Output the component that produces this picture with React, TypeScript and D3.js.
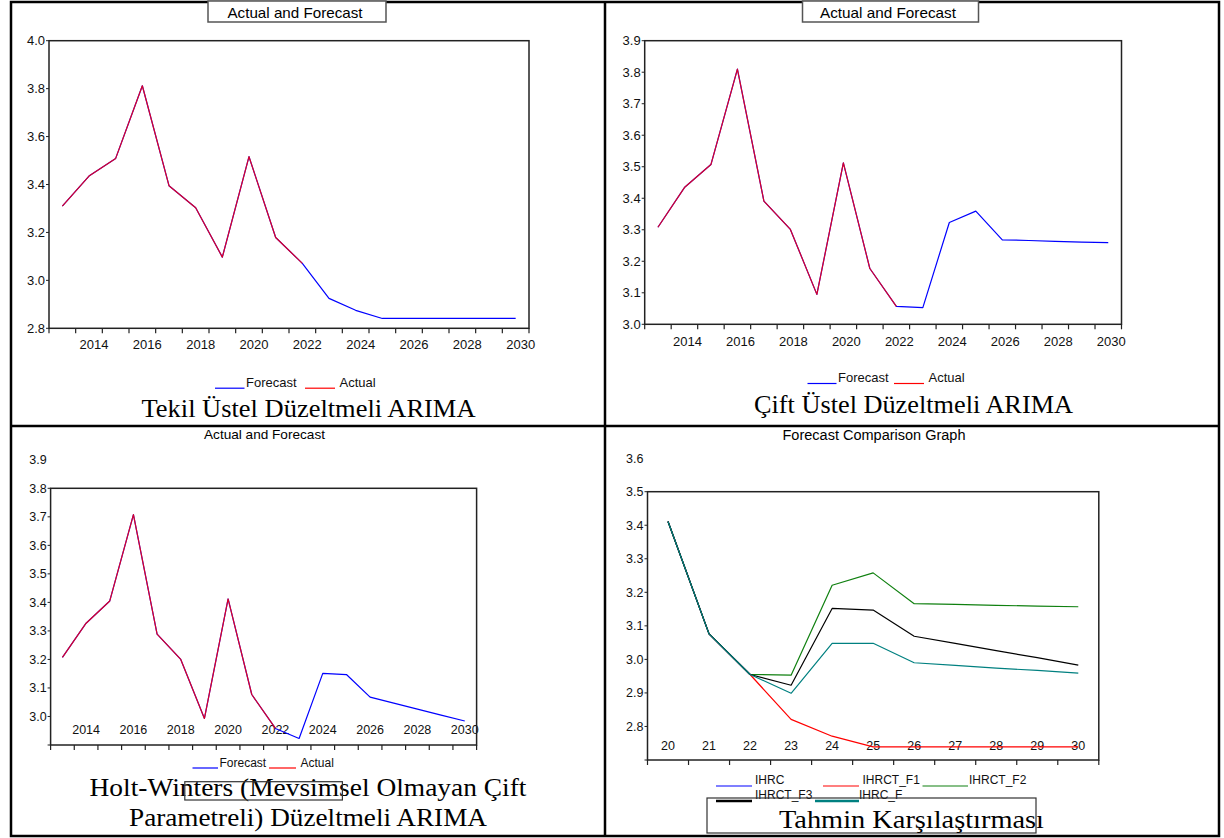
import React from "react";
import * as d3 from "d3";

// years on the three forecast charts
const years = ["2013", "2014", "2015", "2016", "2017", "2018", "2019", "2020", "2021", "2022",
  "2023", "2024", "2025", "2026", "2027", "2028", "2029", "2030"];
const yearLabels = ["2014", "2016", "2018", "2020", "2022", "2024", "2026", "2028", "2030"];

// Tekil ustel duzeltmeli
const tekilActual = [3.31, 3.435, 3.509, 3.812, 3.395, 3.303, 3.097, 3.516, 3.179, 3.071];
const tekilForecast = [3.31, 3.435, 3.509, 3.812, 3.395, 3.303, 3.097, 3.516, 3.179, 3.071,
  2.925, 2.875, 2.841, 2.841, 2.841, 2.841, 2.841, 2.841];

// Cift ustel duzeltmeli
const ciftActual = [3.308, 3.434, 3.507, 3.81, 3.391, 3.301, 3.095, 3.512, 3.177, 3.057];
const ciftForecast = [3.308, 3.434, 3.507, 3.81, 3.391, 3.301, 3.095, 3.512, 3.177, 3.057,
  3.053, 3.323, 3.359, 3.268, 3.266, 3.263, 3.261, 3.259];

// Holt-Winters
const holtActual = [3.207, 3.327, 3.405, 3.708, 3.289, 3.2, 2.993, 3.412, 3.077, 2.958];
const holtForecast = [3.207, 3.327, 3.405, 3.708, 3.289, 3.2, 2.993, 3.412, 3.077, 2.958,
  2.923, 3.151, 3.147, 3.068, 3.047, 3.026, 3.005, 2.984];

// comparison graph
const compCats = ["20", "21", "22", "23", "24", "25", "26", "27", "28", "29", "30"];
const ihrc = [3.411, 3.076, 2.955];
const ihrctF1 = [3.411, 3.076, 2.955, 2.821, 2.771, 2.739, 2.739, 2.739, 2.739, 2.739, 2.739];
const ihrctF2 = [3.411, 3.076, 2.955, 2.953, 3.221, 3.258, 3.166, 3.164, 3.161, 3.159, 3.157];
const ihrctF3 = [3.411, 3.076, 2.955, 2.923, 3.152, 3.147, 3.069, 3.048, 3.026, 3.005, 2.983];
const ihrcF = [3.411, 3.076, 2.955, 2.899, 3.048, 3.048, 2.99, 2.982, 2.974, 2.967, 2.959];

const SANS = "'Liberation Sans', Arial, sans-serif";
const SERIF = "'Liberation Serif', 'Times New Roman', serif";

type Series = { values: number[]; color: string; width?: number; opacity?: number };

type PanelProps = {
  cats: string[];
  x0: number; x1: number; y0: number; y1: number;
  yDomain: [number, number];
  yMarks: number[];
  yLabels: number[];
  xLabels: string[];
  xLabelY: number;
  xLabelDx: number;
  fontSize: number;
  series: Series[];
};

function Panel(p: PanelProps) {
  const x = d3.scaleBand<string>().domain(p.cats).range([p.x0, p.x1]);
  const y = d3.scaleLinear().domain(p.yDomain).range([p.y1, p.y0]);
  const cx = (c: string) => (x(c) as number) + x.bandwidth() / 2;
  const bounds = p.cats.map((c) => x(c) as number).concat([p.x1]);

  return (
    <g fontFamily={SANS} fontSize={p.fontSize} fill="#111">
      {p.yLabels.map((v) => (
        <text key={"yl" + v} x={p.x0 - 4} y={y(v)} dy="0.35em" textAnchor="end">
          {v.toFixed(1)}
        </text>
      ))}
      {p.yMarks.map((v) => (
        <line key={"ym" + v} x1={p.x0 - 3} x2={p.x0} y1={y(v)} y2={y(v)} stroke="#222" strokeWidth={1} />
      ))}
      {bounds.map((b, i) => (
        <line key={"xt" + i} x1={b} x2={b} y1={p.y1} y2={p.y1 + 5} stroke="#222" strokeWidth={1.2} />
      ))}
      {p.xLabels.map((c) => (
        <text key={"xl" + c} x={cx(c) + p.xLabelDx} y={p.xLabelY} textAnchor="middle">
          {c}
        </text>
      ))}
      {p.series.map((s, i) => {
        const gen = d3
          .line<number>()
          .x((_, j) => cx(p.cats[j]))
          .y((d) => y(d));
        return (
          <path
            key={"s" + i}
            d={gen(s.values) || ""}
            fill="none"
            stroke={s.color}
            strokeWidth={s.width ?? 1.2}
            strokeOpacity={s.opacity ?? 1}
            strokeLinejoin="round"
          />
        );
      })}
      <rect x={p.x0} y={p.y0} width={p.x1 - p.x0} height={p.y1 - p.y0} fill="none" stroke="#222" strokeWidth={1.5} />
    </g>
  );
}

function Legend2(props: { x: number; y: number; lines: [number, number, number, number]; size: number }) {
  const [b0, b1, r0, r1] = props.lines;
  return (
    <g fontFamily={SANS} fontSize={props.size} fill="#111">
      <line x1={b0} x2={b1} y1={props.y + 1.5} y2={props.y + 1.5} stroke="#0000ff" strokeWidth={1.2} />
      <text x={b1 + 1.5} y={props.y}>Forecast</text>
      <line x1={r0} x2={r1} y1={props.y + 1.5} y2={props.y + 1.5} stroke="#ff0000" strokeWidth={1.2} />
      <text x={r1 + 4.5} y={props.y}>Actual</text>
    </g>
  );
}

const yr = (a: number, b: number, s: number) => {
  const out: number[] = [];
  for (let v = a; v <= b + 1e-9; v += s) out.push(Math.round(v * 10) / 10);
  return out;
};

export default function App() {
  return (
    <div style={{ position: "absolute", left: 0, top: 0 }}>
      <svg width={1224} height={838} style={{ display: "block", background: "#fff" }}>
        {/* table grid */}
        <g stroke="#000" strokeWidth={2.5} fill="none">
          <rect x={11} y={2} width={1208} height={834} />
          <line x1={605} x2={605} y1={2} y2={836} />
          <line x1={11} x2={1219} y1={426} y2={426} />
        </g>

        {/* top-left */}
        <rect x={208} y={1} width={178} height={21} fill="#fff" stroke="#555" strokeWidth={1.5} />
        <text x={295} y={18} textAnchor="middle" fontFamily={SANS} fontSize={14.5} textLength={135} lengthAdjust="spacingAndGlyphs">
          Actual and Forecast
        </text>
        <Panel
          cats={years} x0={49} x1={529} y0={40.7} y1={328.3}
          yDomain={[2.8, 4.0]} yMarks={yr(2.8, 4.0, 0.2)} yLabels={yr(2.8, 4.0, 0.2)}
          xLabels={yearLabels} xLabelY={349} xLabelDx={5} fontSize={13}
          series={[
            { values: tekilForecast, color: "#0000ff" },
            { values: tekilActual, color: "#ff0000", opacity: 0.85 },
          ]}
        />
        <Legend2 x={0} y={386.7} lines={[215, 244.5, 305, 335]} size={13} />
        <text x={308.5} y={416.5} textAnchor="middle" fontFamily={SERIF} fontSize={26} textLength={334} lengthAdjust="spacingAndGlyphs">
          Tekil Üstel Düzeltmeli ARIMA
        </text>

        {/* top-right */}
        <rect x={802.5} y={1} width={176} height={21} fill="#fff" stroke="#555" strokeWidth={1.5} />
        <text x={888} y={18} textAnchor="middle" fontFamily={SANS} fontSize={14.5} textLength={136} lengthAdjust="spacingAndGlyphs">
          Actual and Forecast
        </text>
        <Panel
          cats={years} x0={644.7} x1={1121.5} y0={40.7} y1={324.3}
          yDomain={[3.0, 3.9]} yMarks={yr(3.0, 3.9, 0.1)} yLabels={yr(3.0, 3.9, 0.1)}
          xLabels={yearLabels} xLabelY={345.5} xLabelDx={3} fontSize={13}
          series={[
            { values: ciftForecast, color: "#0000ff" },
            { values: ciftActual, color: "#ff0000", opacity: 0.85 },
          ]}
        />
        <Legend2 x={0} y={382} lines={[807.5, 836.5, 894, 924]} size={13} />
        <text x={913.5} y={413} textAnchor="middle" fontFamily={SERIF} fontSize={26} textLength={319} lengthAdjust="spacingAndGlyphs">
          Çift Üstel Düzeltmeli ARIMA
        </text>

        {/* bottom-left */}
        <text x={264.5} y={439} textAnchor="middle" fontFamily={SANS} fontSize={13.5} textLength={121} lengthAdjust="spacingAndGlyphs">
          Actual and Forecast
        </text>
        <Panel
          cats={years} x0={50.6} x1={476.6} y0={488.3} y1={745}
          yDomain={[2.9, 3.8]} yMarks={yr(2.9, 3.8, 0.1)} yLabels={yr(3.0, 3.9, 0.1)}
          xLabels={yearLabels} xLabelY={734} xLabelDx={0} fontSize={12.5}
          series={[
            { values: holtForecast, color: "#0000ff" },
            { values: holtActual, color: "#ff0000", opacity: 0.85 },
          ]}
        />
        <Legend2 x={0} y={766.5} lines={[192.5, 218, 269, 296]} size={12} />
        <text x={308} y={795.5} textAnchor="middle" fontFamily={SERIF} fontSize={26} textLength={437} lengthAdjust="spacingAndGlyphs">
          Holt-Winters (Mevsimsel Olmayan Çift
        </text>
        <text x={308} y={826} textAnchor="middle" fontFamily={SERIF} fontSize={26} textLength={358} lengthAdjust="spacingAndGlyphs">
          Parametreli) Düzeltmeli ARIMA
        </text>
        <rect x={184.8} y={781.7} width={157.6} height={18.3} fill="none" stroke="#333" strokeWidth={1.2} />

        {/* bottom-right */}
        <text x={874} y={440} textAnchor="middle" fontFamily={SANS} fontSize={14} textLength={183} lengthAdjust="spacingAndGlyphs">
          Forecast Comparison Graph
        </text>
        <Panel
          cats={compCats} x0={647.5} x1={1098.8} y0={491.7} y1={760}
          yDomain={[2.7, 3.5]} yMarks={yr(2.7, 3.5, 0.1)} yLabels={yr(2.8, 3.6, 0.1)}
          xLabels={compCats} xLabelY={750} xLabelDx={0} fontSize={12.5}
          series={[
            { values: ihrc, color: "#0000ff" },
            { values: ihrctF1, color: "#ff0000" },
            { values: ihrctF2, color: "#108010" },
            { values: ihrctF3, color: "#000000" },
            { values: ihrcF, color: "#008080" },
          ]}
        />
        <g fontFamily={SANS} fontSize={12} fill="#111">
          <line x1={716} x2={752} y1={786} y2={786} stroke="#0000ff" strokeWidth={1.2} />
          <text x={755} y={784}>IHRC</text>
          <line x1={823} x2={859} y1={786} y2={786} stroke="#ff0000" strokeWidth={1.2} />
          <text x={862.5} y={784}>IHRCT_F1</text>
          <line x1={922.5} x2={968} y1={786} y2={786} stroke="#108010" strokeWidth={1.2} />
          <text x={969} y={784}>IHRCT_F2</text>
          <line x1={716} x2={752} y1={801} y2={801} stroke="#000" strokeWidth={2.5} />
          <text x={755} y={799}>IHRCT_F3</text>
          <line x1={815} x2={859} y1={801} y2={801} stroke="#008080" strokeWidth={2.5} />
          <text x={859} y={799}>IHRC_F</text>
        </g>
        <rect x={707} y={798} width={329} height={35} fill="none" stroke="#333" strokeWidth={1.2} />
        <text x={911.5} y={828} textAnchor="middle" fontFamily={SERIF} fontSize={26} textLength={265} lengthAdjust="spacingAndGlyphs">
          Tahmin Karşılaştırması
        </text>
      </svg>
    </div>
  );
}
